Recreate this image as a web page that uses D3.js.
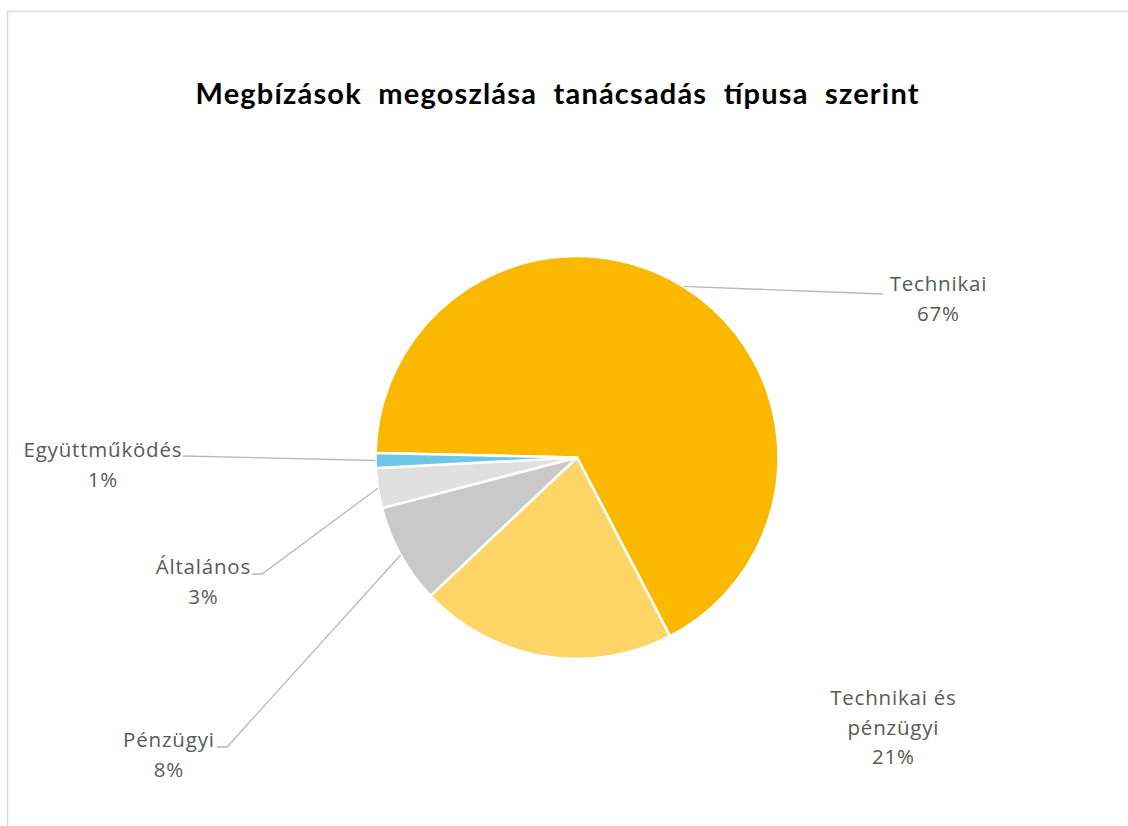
<!DOCTYPE html>
<html>
<head>
<meta charset="utf-8">
<script src="https://cdn.jsdelivr.net/npm/d3@7"></script>
<style>
  body { margin: 0; background: #fff; }
  text { font-family: Lato, "Open Sans", sans-serif; }
  text.lbl { font-family: "Open Sans", sans-serif; }
</style>
</head>
<body>
<script>
// data
const categories = ["Technikai", "Technikai és pénzügyi", "Pénzügyi", "Általános", "Együttműködés"];
const values = [67.0, 20.6, 8.0, 3.2, 1.2];
const labelLines = [["Technikai"], ["Technikai és", "pénzügyi"], ["Pénzügyi"], ["Általános"], ["Együttműködés"]];
const sliceColors = ["#FBB800", "#FFD567", "#C9C9C9", "#E0E0E0", "#6CC6E8"];
const title = "Megbízások  megoszlása  tanácsadás  típusa  szerint";

function main() {
  width = 1128
  height = 826

  canvas = d3.select("body")
  .append("svg")
  .attr("width", width)
  .attr("height", height)

  // chart area frame (right/bottom run off the page)
  canvas.append("rect")
  .attr("x", 7.5).attr("y", 11.5)
  .attr("width", 1300).attr("height", 1000)
  .attr("fill", "none")
  .attr("stroke", "#D9D9D9")
  .attr("stroke-width", 1.5)

  canvas.append("text")
  .attr("x", 557).attr("y", 104)
  .attr("text-anchor", "middle")
  .attr("font-size", 29)
  .attr("font-weight", "bold")
  .attr("fill", "#000")
  .attr("textLength", 723)
  .attr("lengthAdjust", "spacing")
  .style("white-space", "pre")
  .text(title)

  cx = 577
  cy = 457.5
  radius = 201.5
  start = -88.7 * Math.PI / 180

  var pie = d3.pie().sort(null).startAngle(start).endAngle(start + 2 * Math.PI)
  var arcs = pie(values)
  var arc = d3.arc().innerRadius(0).outerRadius(radius)
  var total = d3.sum(values)
  var pct = d3.format(".0%")

  var g = canvas.append("g").attr("transform", "translate(" + cx + "," + cy + ")")

  g.selectAll("path")
  .data(arcs)
  .enter()
  .append("path")
  .attr("d", arc)
  .attr("fill", function(d, i) { return sliceColors[i] })
  .attr("stroke", "#fff")
  .attr("stroke-width", 2.5)
  .attr("stroke-linejoin", "round")

  // label layout: centre x, first baseline, leader end points (page coords)
  var layout = [
    {x: 938, y: 291, leader: [[883, 294]]},
    {x: 893, y: 705, leader: null},
    {x: 168.5, y: 747, leader: [[227, 747], [217, 747]]},
    {x: 203, y: 574, leader: [[262, 574], [252, 574]]},
    {x: 102.5, y: 457, leader: [[183, 456]]}
  ]

  var lineGap = 29.5

  arcs.forEach(function(d, i) {
    var L = layout[i]
    if (L.leader) {
      var mid = (d.startAngle + d.endAngle) / 2
      var p0 = [cx + radius * Math.sin(mid), cy - radius * Math.cos(mid)]
      canvas.append("polyline")
      .attr("points", [p0].concat(L.leader).map(function(p) { return p.join(",") }).join(" "))
      .attr("fill", "none")
      .attr("stroke", "#B8B8B8")
      .attr("stroke-width", 1.3)
    }
    var lines = labelLines[i].concat([pct(d.data / total)])
    var t = canvas.append("text")
    .attr("class", "lbl")
    .attr("text-anchor", "middle")
    .attr("font-size", 20.5)
    .attr("letter-spacing", 0.8)
    .attr("fill", "#595959")
    lines.forEach(function(s, k) {
      t.append("tspan")
      .attr("x", L.x + 0.4)
      .attr("y", L.y + k * lineGap)
      .text(s)
    })
  })
}

main()
</script>
</body>
</html>
